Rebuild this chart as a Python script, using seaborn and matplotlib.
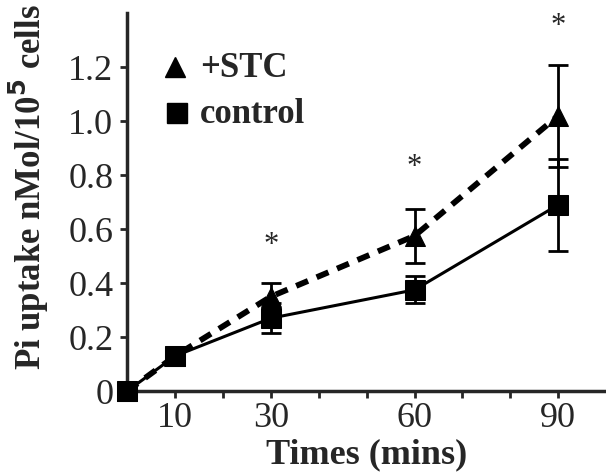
import numpy as np
import pandas as pd
import matplotlib.pyplot as plt
import seaborn as sns
from matplotlib.ticker import FixedLocator

times = [0, 10, 30, 60, 90]
control = [0.0, 0.13, 0.27, 0.375, 0.69]
control_err = [0.0, 0.0, 0.055, 0.05, 0.17]
stc = [0.0, 0.13, 0.35, 0.575, 1.02]
stc_err = [0.0, 0.0, 0.05, 0.10, 0.19]
star_times = [30, 60, 90]
star_y = [0.54, 0.83, 1.35]

sns.set_style("ticks")
plt.rcParams['font.family'] = ['Liberation Serif', 'DejaVu Serif']

df = pd.DataFrame({
    "time": times * 2,
    "uptake": stc + control,
    "group": ["+STC"] * len(times) + ["control"] * len(times),
})

fig = plt.figure(figsize=(6.06, 4.74), dpi=100)
ax = fig.add_axes([0.21, 0.175, 0.79, 0.797])

# error bars first so markers sit on top
ax.errorbar(times, stc, yerr=stc_err, fmt="none", ecolor="black",
            elinewidth=2, capsize=7, capthick=2, zorder=2)
ax.errorbar(times, control, yerr=control_err, fmt="none", ecolor="black",
            elinewidth=2, capsize=7, capthick=2, zorder=2)

sns.lineplot(data=df[df.group == "+STC"], x="time", y="uptake", ax=ax,
             color="black", linewidth=4.2, linestyle=(0, (2.2, 1.6)),
             marker="^", markersize=14, markeredgecolor="black", zorder=3)
sns.lineplot(data=df[df.group == "control"], x="time", y="uptake", ax=ax,
             color="black", linewidth=2.2, marker="s", markersize=15,
             markeredgecolor="black", zorder=4)

for t, y in zip(star_times, star_y):
    ax.text(t, y, "*", ha="center", va="center", fontsize=22)

# legend drawn as markers + bold text
ax.plot([10], [1.20], marker="^", color="black", markersize=15, linestyle="none")
ax.text(15.2, 1.195, "+STC", fontsize=25, fontweight="bold", va="center")
ax.plot([10.3], [1.03], marker="s", color="black", markersize=14, linestyle="none")
ax.text(15.2, 1.025, "control", fontsize=25, fontweight="bold", va="center")

ax.set_xlim(0, 100)
ax.set_ylim(0, 1.4)
ax.set_xticks([10, 30, 60, 90])
ax.set_xticklabels(["10", "30", "60", "90"])
ax.xaxis.set_minor_locator(FixedLocator([20, 40, 50, 70, 80]))
ax.set_yticks([0, 0.2, 0.4, 0.6, 0.8, 1.0, 1.2])
ax.set_yticklabels(["0", "0.2", "0.4", "0.6", "0.8", "1.0", "1.2"])
ax.tick_params(axis="both", labelsize=26, width=2, length=5, direction="out", pad=5)
ax.tick_params(axis="x", which="minor", width=2, length=5)
ax.tick_params(axis="x", pad=3)

for s in ["top", "right"]:
    ax.spines[s].set_visible(False)
for s in ["left", "bottom"]:
    ax.spines[s].set_linewidth(2.5)

ax.set_xlabel("Times (mins)", fontsize=26, fontweight="bold", labelpad=2)
ax.set_ylabel("Pi uptake nMol/10$^{\\mathbf{5}}$ cells", fontsize=25, fontweight="bold")
ax.yaxis.set_label_coords(-0.16, 0.54)
for c in ax.get_children():
    if hasattr(c, "set_clip_on"):
        c.set_clip_on(False)

fig.savefig("out.png", dpi=100)
plt.close()
